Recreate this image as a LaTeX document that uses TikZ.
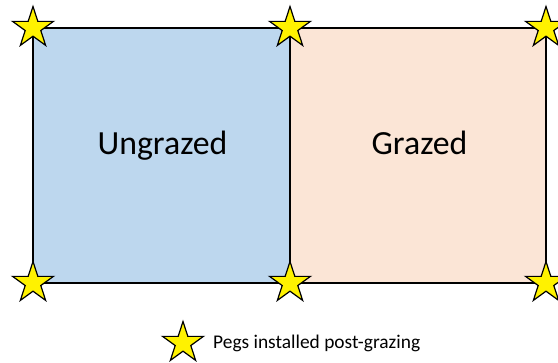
\documentclass[tikz,border=0pt]{standalone}
\usepackage{fontspec}
\setmainfont{Carlito}
\usetikzlibrary{shapes.geometric}
\definecolor{ungrazedblue}{HTML}{BDD7EE}
\definecolor{grazedpeach}{HTML}{FBE5D6}

\begin{document}
\begin{tikzpicture}[x=1pt,y=-1pt,
    peg/.style={star,star points=5,star point ratio=2.618,minimum size=43pt,
      inner sep=0pt,draw=black,line width=1.2pt,fill=yellow},
    plotbox/.style={draw=black,line width=1.8pt}]
      \useasboundingbox (0,0) rectangle (558,363);
      % plot corners
      \coordinate (tl) at (33,28);
      \coordinate (tm) at (290,28);
      \coordinate (tr) at (546,28);
      \coordinate (bl) at (33,283);
      \coordinate (bm) at (290,283);
      \coordinate (br) at (546,283);
      \draw[plotbox,fill=ungrazedblue] (tl) rectangle (bm);
      \draw[plotbox,fill=grazedpeach] (tm) rectangle (br);
      \node[font=\fontsize{33.8}{40}\selectfont,anchor=base] (ungrazed) at (162.5,155) {Ungrazed};
      \node[font=\fontsize{33.8}{40}\selectfont,anchor=base] (grazed) at (419.5,155) {Grazed};
      % pegs at every corner
      \foreach \c in {tl,tm,tr,bl,bm,br}
        \node[peg] (peg-\c) at (\c) {};
      % legend
      \node[peg] (keypeg) at (183,343) {};
      \node[font=\fontsize{19.4}{23}\selectfont,anchor=base west,inner sep=0pt] (keytext) at (213,349) {Pegs installed post-grazing};
\end{tikzpicture}
\end{document}
